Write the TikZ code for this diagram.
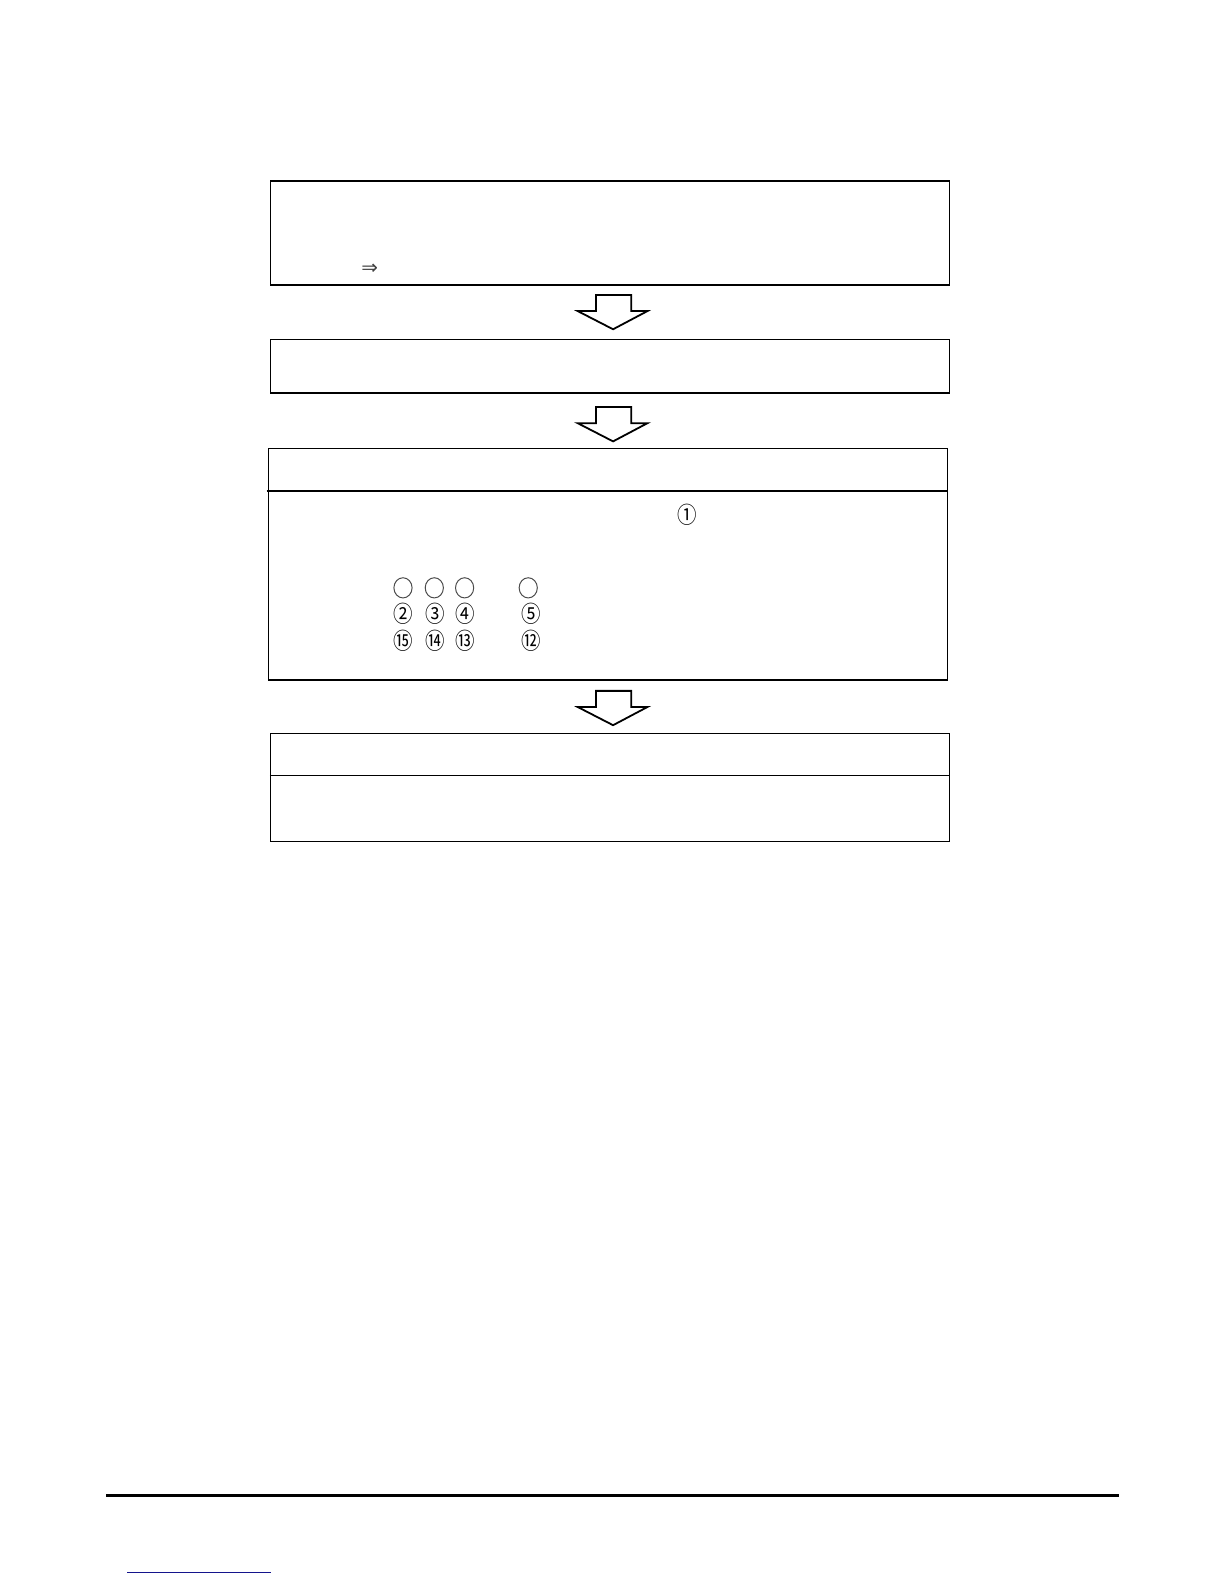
\documentclass[tikz,border=0pt]{standalone}
\usepackage{fontspec}
\newfontfamily\symfont{DejaVu Sans}
\newfontfamily\cjkfont[FakeStretch=0.85]{Noto Sans CJK JP}
\begin{document}%
\begin{tikzpicture}[x=0.505bp,y=-0.505bp,
  boxline/.style={draw=black,line width=0.8bp,inner sep=0pt,minimum width=339.4bp},
  sepline/.style={draw=black,line width=0.7bp},
  bigarrow/.style={draw=black,line width=0.9bp,fill=white,line join=miter},
  circnum/.style={inner sep=0pt,font=\cjkfont\fontsize{11.5}{13}\selectfont},
  emptycirc/.style={black!70,line width=0.5bp}
]
\path[use as bounding box] (0,0) rectangle (1211.76,1568.3);

% boxes
\node[boxline,minimum height=52.0bp] (b1) at (604,230.5) {};
\node[boxline,minimum height=26.8bp] (b2) at (604,362.5) {};
\node[boxline,minimum height=115.6bp] (b3) at (602,558.5) {};
\node[boxline,minimum height=54.0bp] (b4) at (604,779.5) {};

% separators
\coordinate (s3l) at (264,486);
\coordinate (s3r) at (b3.east |- s3l);
\draw[sepline] (s3l) -- (s3r);
\coordinate (s4l) at (b4.west |- 0,768);
\coordinate (s4r) at (b4.east |- 0,768);
\draw[sepline] (s4l) -- (s4r);

% text in box 1
\node[inner sep=0pt,font=\symfont\fontsize{10}{12}\selectfont,text=black!75] (impl) at (366,267) {⇒};

% block arrows
\foreach \n/\t in {a1/292,a2/403,a3/684}{
  \draw[bigarrow] (590,\t) -- (625,\t) -- (625,\t+16) -- (641,\t+16) -- (607,\t+34) -- (572,\t+16) -- (590,\t+16) -- cycle;
  \coordinate (\n) at (607,\t);
}

% circled numbers
\node[circnum] (c1) at (680,510) {①};
\node[circnum] (c2) at (399,608) {②};
\node[circnum] (c3) at (431,608) {③};
\node[circnum] (c4) at (461,608) {④};
\node[circnum] (c5) at (526,608) {⑤};
\node[circnum] (c15) at (399,634) {⑮};
\node[circnum] (c14) at (431,634) {⑭};
\node[circnum] (c13) at (461,634) {⑬};
\node[circnum] (c12) at (526,634) {⑫};

% empty circles
\draw[emptycirc] (399,582) ellipse (9 and 10);
\draw[emptycirc] (430,582) ellipse (9 and 10);
\draw[emptycirc] (460,582) ellipse (9 and 10);
\draw[emptycirc] (523,582) ellipse (9 and 10);

% footer rules
\coordinate (r1) at (105,1481);
\coordinate (r2) at (1108,1481);
\draw[line width=1.5bp] (r1) -- (r2);
\coordinate (u1) at (126,1557);
\coordinate (u2) at (268,1557);
\draw[draw={rgb,255:red,20;green,20;blue,140},line width=0.7bp] (u1) -- (u2);
\end{tikzpicture}%
\end{document}
